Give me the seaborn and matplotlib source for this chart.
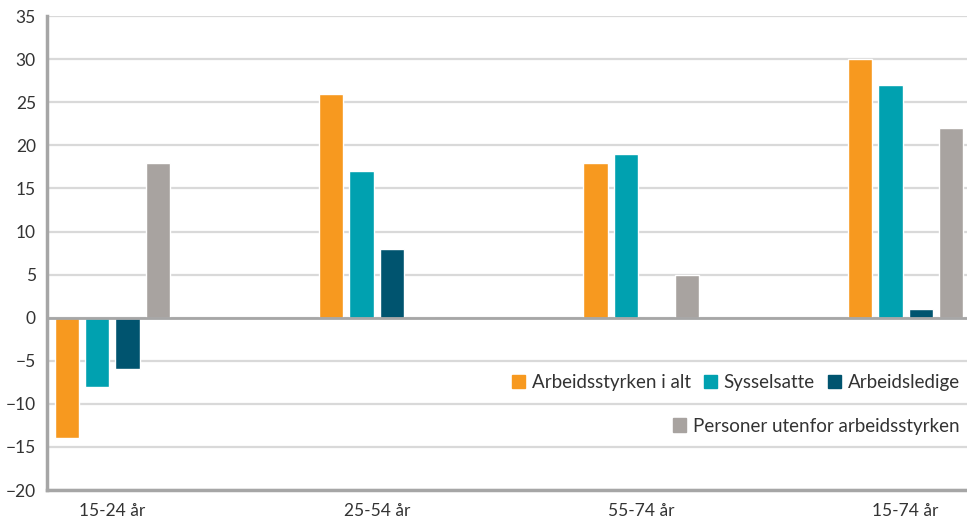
import pandas as pd
import numpy as np
import matplotlib.pyplot as plt
import seaborn as sns
from matplotlib.patches import Patch

grupper = ["15-24 år", "25-54 år", "55-74 år", "15-74 år"]
serier = ["Arbeidsstyrken i alt", "Sysselsatte", "Arbeidsledige", "Personer utenfor arbeidsstyrken"]
arbeidsstyrken = [-14, 26, 18, 30]
sysselsatte = [-8, 17, 19, 27]
arbeidsledige = [-6, 8, 0, 1]
utenfor = [18, 0, 5, 22]
farger = ["#F7991F", "#00A1B0", "#00546F", "#A8A3A0"]

rows = []
for s, vals in zip(serier, [arbeidsstyrken, sysselsatte, arbeidsledige, utenfor]):
    for g, v in zip(grupper, vals):
        rows.append({"gruppe": g, "serie": s, "endring": v})
df = pd.DataFrame(rows)

sns.set_style("white")
plt.rcParams['font.family'] = ['Lato', 'DejaVu Sans']

fig = plt.figure(figsize=(9.67, 5.21), dpi=100)
ax = fig.add_axes([0.0486, 0.0595, 0.9514, 0.9095])

sns.barplot(data=df, x="gruppe", y="endring", hue="serie", order=grupper, hue_order=serier,
            palette=farger, saturation=1, width=0.46, gap=0.2, ax=ax, legend=False, zorder=3)

ax.set_ylim(-20, 35)
ax.set_yticks(range(-20, 36, 5))
ax.set_xlim(-0.247, 3.232)
ax.yaxis.grid(True, color="#D9D9D9", linewidth=1.6, zorder=0)
ax.set_axisbelow(True)
ax.axhline(0, color="#A6A6A6", linewidth=2, zorder=4)
ax.set_xlabel("")
ax.set_ylabel("")
for side in ["top", "right"]:
    ax.spines[side].set_visible(False)
for side in ["left", "bottom"]:
    ax.spines[side].set_color("#A6A6A6")
    ax.spines[side].set_linewidth(2.5)
ax.tick_params(axis="both", length=0, labelsize=12.5, colors="#333333")
ax.tick_params(axis="y", pad=8)
ax.tick_params(axis="x", pad=9)

h1 = [Patch(color=c) for c in farger[:3]]
leg1 = ax.legend(h1, serier[:3], loc="center right", bbox_to_anchor=(0.992, 0.226), ncol=3,
                 frameon=False, fontsize=13.5, borderpad=0, borderaxespad=0,
                 handlelength=0.7, handleheight=0.7, handletextpad=0.35, columnspacing=0.7)
for t in leg1.get_texts():
    t.set_color("#333333")
ax.add_artist(leg1)
leg2 = ax.legend([Patch(color=farger[3])], serier[3:], loc="center right", bbox_to_anchor=(0.992, 0.135),
                 frameon=False, fontsize=13.5, borderpad=0, borderaxespad=0,
                 handlelength=0.7, handleheight=0.7, handletextpad=0.35)
for t in leg2.get_texts():
    t.set_color("#333333")

plt.savefig("out.png", dpi=100)
